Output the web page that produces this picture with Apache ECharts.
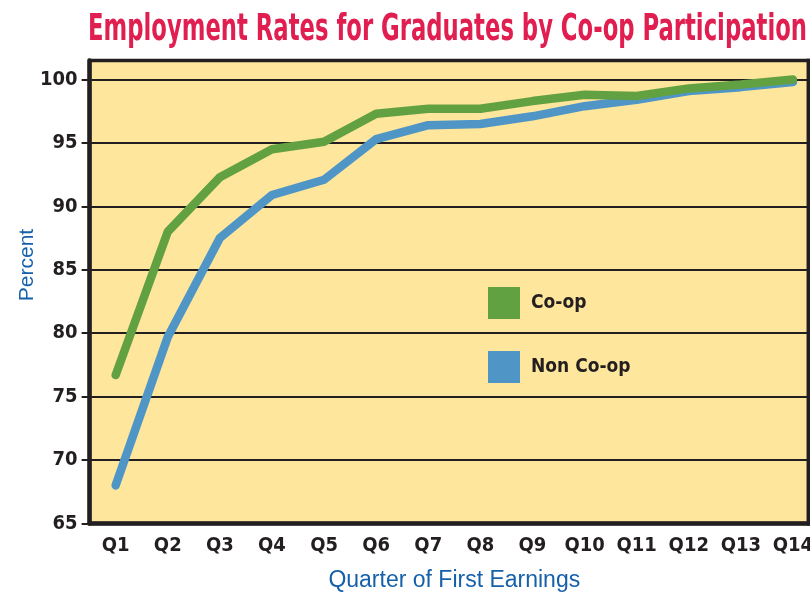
<!DOCTYPE html>
<html>
<head>
<meta charset="utf-8">
<script src="https://cdn.jsdelivr.net/npm/echarts@6/dist/echarts.min.js"></script>
<style>
  html, body { margin: 0; padding: 0; background: #fff; }
  #chart { width: 810px; height: 594px; }
</style>
</head>
<body>
<div id="chart"></div>
<script>
// data
var quarters = ['Q1', 'Q2', 'Q3', 'Q4', 'Q5', 'Q6', 'Q7', 'Q8', 'Q9', 'Q10', 'Q11', 'Q12', 'Q13', 'Q14']
var coopRates = [76.7, 88.0, 92.3, 94.5, 95.1, 97.3, 97.7, 97.7, 98.3, 98.8, 98.7, 99.3, 99.6, 100.0]
var nonCoopRates = [68.0, 79.7, 87.5, 90.9, 92.1, 95.3, 96.4, 96.5, 97.1, 97.9, 98.4, 99.1, 99.4, 99.8]
var percentTicks = [65, 70, 75, 80, 85, 90, 95, 100]

var ink = '#231f20'
var narrow = '"DejaVu Sans Condensed", sans-serif'
var titleText = 'Employment Rates for Graduates by Co-op Participation'
var titleFont = 'bold 38px ' + narrow

// squeeze the title so it spans the same width as in the picture
let measure = document.createElement('canvas').getContext('2d')
measure.font = titleFont
let titleScale = 719 / measure.measureText(titleText).width

let myChart = echarts.init(document.getElementById('chart'))
let option = {
    animation: false,
    backgroundColor: '#fff',
    graphic: [
        {
            type: 'text',
            x: 88,
            y: 11,
            scaleX: titleScale,
            style: {
                text: titleText,
                x: 0,
                y: 0,
                font: titleFont,
                fill: '#e01e50',
                textAlign: 'left',
                textVerticalAlign: 'top'
            }
        },
        {
            // right frame edge, the plot runs past the canvas
            type: 'line',
            shape: { x1: 808.3, y1: 58.7, x2: 808.3, y2: 525.5 },
            style: { stroke: ink, lineWidth: 3.5 },
            z: 10
        }
    ],
    grid: {
        left: 89.6,
        top: 60.5,
        right: -9,
        bottom: 70.5,
        show: true,
        backgroundColor: '#fee69c',
        borderColor: ink,
        borderWidth: 3.5,
        containLabel: false,
        outerBoundsMode: 'none'
    },
    legend: {
        orient: 'vertical',
        left: 488,
        top: 287,
        padding: 0,
        icon: 'rect',
        itemWidth: 32,
        itemHeight: 32,
        itemGap: 32,
        data: ['Co-op', 'Non Co-op'],
        textStyle: {
            fontFamily: narrow,
            fontWeight: 'bold',
            fontSize: 19,
            color: ink,
            padding: [0, 0, 0, 6]
        }
    },
    xAxis: {
        type: 'category',
        data: quarters,
        boundaryGap: true,
        name: 'Quarter of First Earnings',
        nameLocation: 'middle',
        nameGap: 46,
        nameMoveOverlap: false,
        nameTextStyle: {
            fontFamily: '"Liberation Sans", sans-serif',
            fontSize: 23,
            color: '#1660ab'
        },
        axisLine: { lineStyle: { color: ink, width: 4.5 } },
        axisTick: { length: 9, lineStyle: { color: ink, width: 2 } },
        axisLabel: {
            interval: 0,
            margin: 12,
            fontFamily: narrow,
            fontWeight: 'bold',
            fontSize: 20,
            color: ink
        },
        splitLine: { show: false }
    },
    yAxis: {
        type: 'value',
        min: 65,
        max: 101.5,
        interval: 5,
        name: 'Percent',
        nameLocation: 'middle',
        nameRotate: 90,
        nameGap: 52,
        nameMoveOverlap: false,
        nameTextStyle: {
            fontFamily: '"Liberation Sans", sans-serif',
            fontSize: 21,
            color: '#1660ab',
            padding: [0, 0, 0, 54]
        },
        axisLine: { show: true, lineStyle: { color: ink, width: 4.5 } },
        axisTick: {
            show: true,
            length: 8,
            customValues: percentTicks,
            lineStyle: { color: ink, width: 2 }
        },
        axisLabel: {
            margin: 12,
            customValues: percentTicks,
            fontFamily: narrow,
            fontWeight: 'bold',
            fontSize: 20,
            color: ink
        },
        splitLine: { show: true, lineStyle: { color: ink, width: 2 } }
    },
    series: [
        {
            name: 'Co-op',
            type: 'line',
            data: coopRates,
            color: '#62a141',
            z: 3,
            showSymbol: false,
            symbol: 'none',
            lineStyle: { width: 8.5, cap: 'round', join: 'round' }
        },
        {
            name: 'Non Co-op',
            type: 'line',
            data: nonCoopRates,
            color: '#4f96c6',
            z: 2,
            showSymbol: false,
            symbol: 'none',
            lineStyle: { width: 8.5, cap: 'round', join: 'round' }
        }
    ]
}

myChart.setOption(option)
</script>
</body>
</html>
